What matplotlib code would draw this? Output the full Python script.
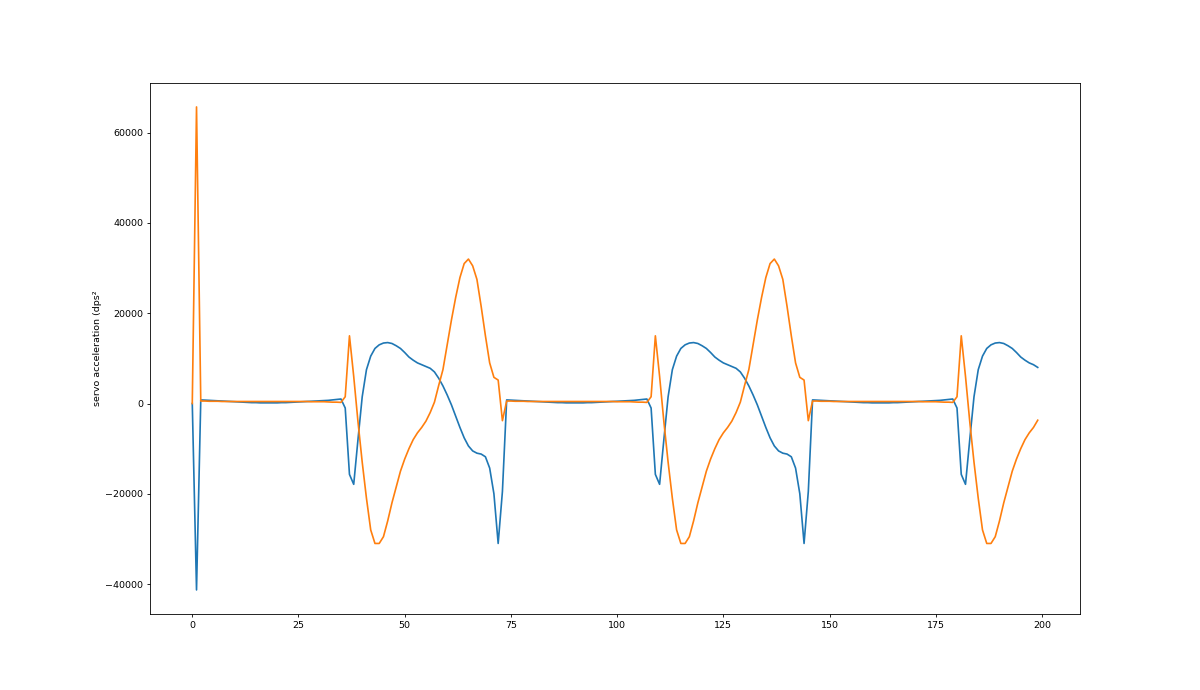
import numpy as np
import matplotlib.pyplot as plt

# sample index 0..199
step = np.arange(200)

# blue trace (values in dps^2)
accel_a = [
    0, -41300,
    # 2..35
    800, 750, 700, 650, 600, 550, 500, 450, 400, 350,
    300, 250, 200, 200, 150, 150, 150, 150, 150, 200,
    200, 250, 300, 350, 400, 450, 500, 550, 600, 650,
    700, 800, 900, 1000,
    # 36..73
    -1000, -15700, -17900, -8000, 1500, 7500, 10500, 12200, 13000, 13400,
    13500, 13300, 12800, 12200, 11300, 10300, 9600, 9000, 8600, 8200,
    7800, 7000, 5600, 3900, 1900, -300, -2800, -5300, -7600, -9400,
    -10500, -11000, -11200, -11800, -14300, -20000, -31000, -19500,
    # 74..107
    800, 750, 700, 650, 600, 550, 500, 450, 400, 350,
    300, 250, 200, 200, 150, 150, 150, 150, 150, 200,
    200, 250, 300, 350, 400, 450, 500, 550, 600, 650,
    700, 800, 900, 1000,
    # 108..145
    -1000, -15700, -17900, -8000, 1500, 7500, 10500, 12200, 13000, 13400,
    13500, 13300, 12800, 12200, 11300, 10300, 9600, 9000, 8600, 8200,
    7800, 7000, 5600, 3900, 1900, -300, -2800, -5300, -7600, -9400,
    -10500, -11000, -11200, -11800, -14300, -20000, -31000, -19500,
    # 146..179
    800, 750, 700, 650, 600, 550, 500, 450, 400, 350,
    300, 250, 200, 200, 150, 150, 150, 150, 150, 200,
    200, 250, 300, 350, 400, 450, 500, 550, 600, 650,
    700, 800, 900, 1000,
    # 180..199
    -1000, -15700, -17900, -8000, 1500, 7500, 10500, 12200, 13000, 13400,
    13500, 13300, 12800, 12200, 11300, 10300, 9600, 9000, 8600, 8000,
]

# orange trace
accel_b = [
    0, 65700,
    # 2..35
    550, 550, 500, 500, 500, 450, 450, 450, 450, 450,
    450, 450, 450, 450, 450, 450, 450, 450, 450, 450,
    450, 450, 450, 450, 450, 450, 400, 400, 400, 400,
    350, 300, 300, 250,
    # 36..73
    1500, 15000, 6000, -4000, -13000, -21000, -28000, -31000, -31000, -29500,
    -26000, -22000, -18500, -15000, -12300, -10000, -8000, -6500, -5300, -3900,
    -2000, 300, 4000, 7500, 13000, 18500, 23500, 27900, 31000, 32000,
    30500, 27500, 21500, 15000, 9000, 5800, 5200, -3800,
    # 74..107
    550, 550, 500, 500, 500, 450, 450, 450, 450, 450,
    450, 450, 450, 450, 450, 450, 450, 450, 450, 450,
    450, 450, 450, 450, 450, 450, 400, 400, 400, 400,
    350, 300, 300, 250,
    # 108..145
    1500, 15000, 6000, -4000, -13000, -21000, -28000, -31000, -31000, -29500,
    -26000, -22000, -18500, -15000, -12300, -10000, -8000, -6500, -5300, -3900,
    -2000, 300, 4000, 7500, 13000, 18500, 23500, 27900, 31000, 32000,
    30500, 27500, 21500, 15000, 9000, 5800, 5200, -3800,
    # 146..179
    550, 550, 500, 500, 500, 450, 450, 450, 450, 450,
    450, 450, 450, 450, 450, 450, 450, 450, 450, 450,
    450, 450, 450, 450, 450, 450, 400, 400, 400, 400,
    350, 300, 300, 250,
    # 180..199
    1500, 15000, 6000, -4000, -13000, -21000, -28000, -31000, -31000, -29500,
    -26000, -22000, -18500, -15000, -12300, -10000, -8000, -6500, -5300, -3700,
]

# reference looks like a downscaled render: smaller text, thinner marks
plt.rcParams.update({
    "font.size": 6.8,
    "axes.linewidth": 0.6,
    "xtick.major.size": 2.4,
    "ytick.major.size": 2.4,
    "xtick.major.width": 0.6,
    "ytick.major.width": 0.6,
    "xtick.major.pad": 2.4,
    "ytick.major.pad": 2.4,
    "axes.labelpad": 2.7,
    "lines.linewidth": 1.2,
})

fig, ax = plt.subplots(figsize=(12, 6.9), dpi=100)
ax.plot(step, accel_a)
ax.plot(step, accel_b)
ax.set_ylabel("servo acceleration (dps²")

fig.savefig("out.png", dpi=100)
